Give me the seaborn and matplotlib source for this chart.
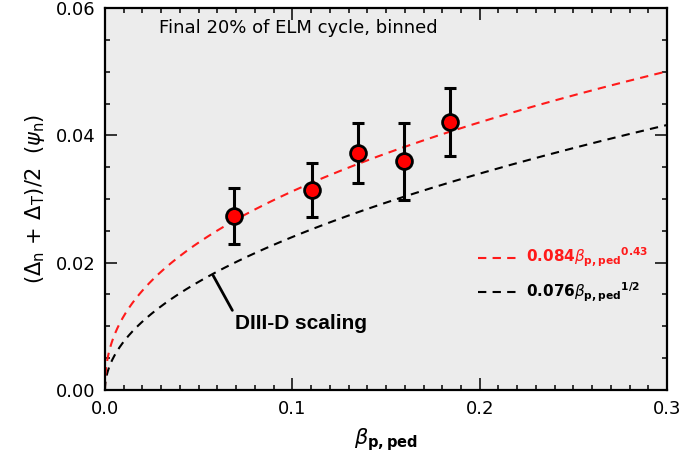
import numpy as np
import pandas as pd
import matplotlib
matplotlib.use("Agg")
import matplotlib.pyplot as plt
import seaborn as sns

# binned points (final 20% of ELM cycle)
beta_ped = [0.069, 0.1105, 0.135, 0.1595, 0.184]
width_mean = [0.0273, 0.0314, 0.0373, 0.0360, 0.0421]
err_lo = [0.0044, 0.0042, 0.0048, 0.0061, 0.0053]
err_hi = [0.0044, 0.0043, 0.0047, 0.0060, 0.0053]

# scalings: coef * beta^expo
fit_coef, fit_expo = 0.084, 0.43
d3d_coef, d3d_expo = 0.076, 0.5

sns.set_style("ticks", {"axes.edgecolor": "black", "xtick.color": "black",
                        "ytick.color": "black", "text.color": "black",
                        "axes.labelcolor": "black"})
plt.rcParams["font.family"] = ["DejaVu Sans"]
plt.rcParams["mathtext.fontset"] = "dejavusans"

fig = plt.figure(figsize=(6.83, 4.58), dpi=100)
ax = fig.add_axes([0.1537, 0.1485, 0.823, 0.834])
ax.set_facecolor("#ececec")

xx = np.concatenate([[0.0], np.geomspace(1e-7, 0.3, 600)])
curves = pd.DataFrame({"x": xx,
                       "fit": fit_coef * xx ** fit_expo,
                       "d3d": d3d_coef * xx ** d3d_expo})

sns.lineplot(data=curves, x="x", y="d3d", ax=ax, color="black", lw=1.5,
             linestyle=(0, (4, 3)))
sns.lineplot(data=curves, x="x", y="fit", ax=ax, color="#ff1a1a", lw=1.5,
             linestyle=(0, (4, 3)))

ax.errorbar(beta_ped, width_mean, yerr=[err_lo, err_hi], fmt="none",
            ecolor="black", elinewidth=2.2, capsize=4, capthick=2.2, zorder=4)
sns.scatterplot(x=beta_ped, y=width_mean, ax=ax, color="#ff0000", s=130,
                edgecolor="black", linewidth=2, zorder=5)

ax.set_xlim(0, 0.3)
ax.set_ylim(0, 0.06)
ax.set_xticks([0.0, 0.1, 0.2, 0.3])
ax.set_xticklabels(["0.0", "0.1", "0.2", "0.3"])
ax.set_yticks([0.0, 0.02, 0.04, 0.06])
ax.set_yticklabels(["0.00", "0.02", "0.04", "0.06"])
ax.set_xticks(np.arange(0, 0.3001, 0.01), minor=True)
ax.set_yticks(np.arange(0, 0.0601, 0.005), minor=True)
ax.tick_params(which="both", direction="in", top=True, right=True,
               width=1.1, labelsize=13, color="black")
ax.tick_params(which="major", length=8.5, pad=7)
ax.tick_params(which="minor", length=3.6)
for s in ax.spines.values():
    s.set_linewidth(1.6)
    s.set_visible(True)
    s.set_color("black")

ax.set_xlabel(r"$\beta_{\mathbf{p,ped}}$", fontsize=15, labelpad=6)
ax.set_ylabel(r"$(\Delta_\mathrm{n}\,+\,\Delta_\mathrm{T})/2\ \ (\psi_\mathrm{n})$",
              fontsize=15, labelpad=6)

ax.text(0.029, 0.0568, "Final 20% of ELM cycle, binned", fontsize=13,
        va="center", ha="left")

ax.annotate("DIII-D scaling", xy=(0.0577, 0.0180), xytext=(0.0695, 0.0105),
            fontsize=15, fontweight="bold", family="Liberation Sans",
            va="center", ha="left",
            arrowprops=dict(arrowstyle="-", color="black", lw=2,
                            shrinkA=0, shrinkB=0, relpos=(0, 0.9)))

# legend lines
ax.plot([0.1989, 0.2197], [0.0208, 0.0208], color="#ff1a1a", lw=1.5,
        linestyle=(0, (4, 3)))
ax.plot([0.1989, 0.2197], [0.0154, 0.0154], color="black", lw=1.5,
        linestyle=(0, (4, 3)))
ax.text(0.2245, 0.0208, r"$\mathbf{0.084}\beta_{\mathbf{p,ped}}{}^{\mathbf{0.43}}$",
        color="#ff1a1a", fontsize=11, va="center", ha="left")
ax.text(0.2245, 0.0154, r"$\mathbf{0.076}\beta_{\mathbf{p,ped}}{}^{\mathbf{1/2}}$",
        color="black", fontsize=11, va="center", ha="left")

fig.savefig("out.png", dpi=100)
